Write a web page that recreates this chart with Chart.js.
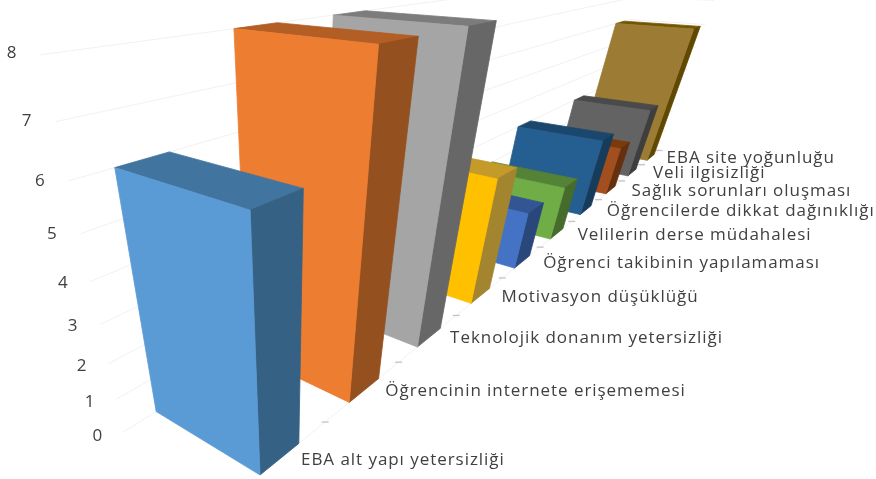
<!DOCTYPE html>
<html>
<head>
<meta charset="utf-8">
<script src="https://cdn.jsdelivr.net/npm/chart.js@4/dist/chart.umd.min.js"></script>
<style>
  html, body { margin: 0; padding: 0; background: #fff; }
  canvas { display: block; }
</style>
</head>
<body>
<canvas id="barChart" width="876" height="479"></canvas>
<script>
const categories = [
  "EBA alt yapı yetersizliği",
  "Öğrencinin internete erişememesi",
  "Teknolojik donanım yetersizliği",
  "Motivasyon düşüklüğü",
  "Öğrenci takibinin yapılamaması",
  "Velilerin derse müdahalesi",
  "Öğrencilerde dikkat dağınıklığı",
  "Sağlık sorunları oluşması",
  "Veli ilgisizliği",
  "EBA site yoğunluğu",
];
const values = [6, 8, 8, 4, 2, 2, 3, 2, 3, 6];
const valueTicks = [0, 1, 2, 3, 4, 5, 6, 7, 8];

const frontColors = ["#5B9BD5", "#ED7D31", "#A5A5A5", "#FFC000", "#4472C4", "#70AD47", "#255E91", "#A34E1E", "#636363", "#9C7C34"];
const sideColors = ["#356185", "#94501F", "#676767", "#A3852F", "#2A477B", "#466C2C", "#173B5B", "#66300F", "#3E3E3E", "#604800"];
const topColors = ["#41759F", "#B25E25", "#7C7C7C", "#C49A2A", "#335693", "#548236", "#1C476D", "#7B3A0E", "#4A4A4A", "#735600"];

// camera: three vanishing points
const originPoint = [260, 475];
const widthVanish = [-622, -64];
const depthVanish = [924, -65];
const heightVanish = [286, 1176];
const widthGain = 0.1334;
const depthGain = 0.1553;
const heightGain = -0.0457;

const barDepth = 0.4;
const depthStart = -0.3;
const depthEnd = 9.7;

function project(across, depth, height) {
  const a = widthGain * across;
  const b = depthGain * depth;
  const c = heightGain * height;
  const w = 1 + a + b + c;
  return {
    x: (originPoint[0] + a * widthVanish[0] + b * depthVanish[0] + c * heightVanish[0]) / w,
    y: (originPoint[1] + a * widthVanish[1] + b * depthVanish[1] + c * heightVanish[1]) / w,
  };
}

function fillFace(ctx, points, color) {
  ctx.beginPath();
  points.forEach((p, i) => (i ? ctx.lineTo(p.x, p.y) : ctx.moveTo(p.x, p.y)));
  ctx.closePath();
  ctx.fillStyle = color;
  ctx.strokeStyle = color;
  ctx.lineWidth = 0.8;
  ctx.fill();
  ctx.stroke();
}

function line(ctx, a, b) {
  ctx.beginPath();
  ctx.moveTo(a.x, a.y);
  ctx.lineTo(b.x, b.y);
  ctx.stroke();
}

const perspectiveBars = {
  id: "perspectiveBars",
  beforeDatasetsDraw(chart) {
    const ctx = chart.ctx;
    const xScale = chart.scales.x;
    const yScale = chart.scales.y;
    const bars = chart.getDatasetMeta(0).data;

    ctx.save();

    // gridlines on the left and back walls
    ctx.strokeStyle = "#eeeeee";
    ctx.lineWidth = 0.8;
    yScale.ticks.forEach((tick) => {
      const corner = project(1, depthEnd, tick.value);
      line(ctx, project(1, depthStart, tick.value), corner);
      line(ctx, corner, project(0, depthEnd, tick.value));
    });
    line(ctx, project(0, 0, 0), project(0, depthEnd, 0));

    // category ticks
    ctx.strokeStyle = "#c4c4c4";
    ctx.lineWidth = 1.3;
    categories.forEach((name, i) => {
      const p = project(0, i + depthStart + 1, 0);
      line(ctx, { x: p.x - 3.5, y: p.y }, { x: p.x + 3.5, y: p.y });
    });

    // back to front so the near bars cover the far ones
    for (let i = bars.length - 1; i >= 0; i--) {
      const depth = xScale.getValueForPixel(bars[i].x);
      const height = yScale.getValueForPixel(bars[i].y);
      const rear = depth + barDepth;

      fillFace(ctx, [project(1, depth, height), project(0, depth, height), project(0, rear, height), project(1, rear, height)], topColors[i]);
      fillFace(ctx, [project(0, depth, 0), project(0, rear, 0), project(0, rear, height), project(0, depth, height)], sideColors[i]);
      fillFace(ctx, [project(1, depth, 0), project(0, depth, 0), project(0, depth, height), project(1, depth, height)], frontColors[i]);
    }

    // value labels sit a little further out as they climb
    ctx.fillStyle = "#404040";
    ctx.font = '17px "Open Sans"';
    ctx.textAlign = "center";
    ctx.textBaseline = "middle";
    yScale.ticks.forEach((tick) => {
      const p = project(1, depthStart, tick.value);
      ctx.fillText(tick.label, p.x - 26 - tick.value * 0.4, p.y + 4 - tick.value * 0.7);
    });

    // category labels
    ctx.textAlign = "left";
    ctx.font = '17px "Open Sans"';
    ctx.letterSpacing = "0.95px";
    categories.forEach((name, i) => {
      const p = project(0, i + 0.2, 0);
      ctx.fillText(name, p.x + (i === 9 ? 16 : 21), p.y + 1);
    });

    ctx.restore();
    return false;
  },
};

new Chart(document.getElementById("barChart").getContext("2d"), {
  type: "bar",
  data: {
    labels: categories,
    datasets: [{ data: values, backgroundColor: frontColors }],
  },
  options: {
    responsive: false,
    animation: false,
    devicePixelRatio: 1,
    plugins: { legend: { display: false }, tooltip: { enabled: false } },
    scales: {
      x: { offset: false, grid: { display: false }, border: { display: false }, ticks: { display: false } },
      y: {
        min: valueTicks[0],
        max: valueTicks[valueTicks.length - 1],
        grid: { display: false },
        border: { display: false },
        ticks: { display: false, stepSize: 1 },
      },
    },
  },
  plugins: [perspectiveBars],
});
</script>
</body>
</html>
